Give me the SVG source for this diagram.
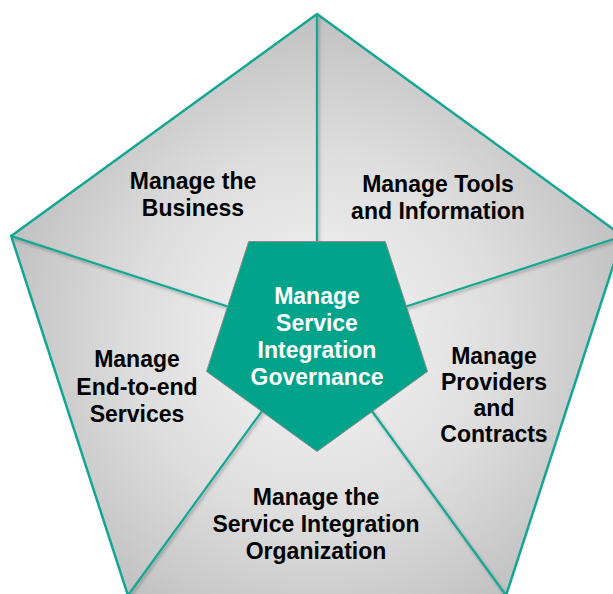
<svg xmlns="http://www.w3.org/2000/svg" width="613" height="594" viewBox="0 0 613 594">
  <defs>
    <radialGradient id="wedgeFill" gradientUnits="userSpaceOnUse" cx="317" cy="335" r="330">
      <stop offset="0" stop-color="#f6f6f6"/>
      <stop offset="0.55" stop-color="#dedede"/>
      <stop offset="1" stop-color="#bfbfbf"/>
    </radialGradient>
    <filter id="lineShadow" x="-10%" y="-10%" width="120%" height="120%">
      <feDropShadow dx="1.5" dy="2" stdDeviation="1.5" flood-color="#000" flood-opacity="0.28"/>
    </filter>
  </defs>
  <style>
    .outline { fill: url(#wedgeFill); stroke: #13a694; stroke-width: 2.5; stroke-linejoin: miter; }
    .spoke { stroke: #13a694; stroke-width: 2.2; fill: none; }
    .core { fill: #02a38b; stroke: #8a8a8a; stroke-width: 1; }
    .label { font-family: "Liberation Sans", Arial, sans-serif; font-weight: bold; font-size: 23px; fill: #000; text-anchor: middle; }
    .core-label { font-family: "Liberation Sans", Arial, sans-serif; font-weight: bold; font-size: 23px; fill: #fff; text-anchor: middle; }
  </style>

  <!-- outer pentagon -->
  <g id="outer">
    <polygon class="outline" points="317,14 622.8,236.1 506,595.5 128,595.5 11.2,236.1"/>
  </g>

  <!-- spokes from each outer corner toward the centre -->
  <g id="connectors" filter="url(#lineShadow)">
    <line class="spoke" x1="317" y1="15" x2="317" y2="335.5"/>
    <line class="spoke" x1="12" y1="236.4" x2="317" y2="335.5"/>
    <line class="spoke" x1="622" y1="236.4" x2="317" y2="335.5"/>
    <line class="spoke" x1="128.6" y1="594.5" x2="317" y2="335.5"/>
    <line class="spoke" x1="505.4" y1="594.5" x2="317" y2="335.5"/>
  </g>

  <g id="manage-business">
    <text class="label" x="193" y="189">Manage the</text>
    <text class="label" x="193" y="216">Business</text>
  </g>

  <g id="manage-tools">
    <text class="label" x="438" y="192">Manage Tools</text>
    <text class="label" x="438" y="219">and Information</text>
  </g>

  <g id="manage-end-to-end">
    <text class="label" x="137" y="367">Manage</text>
    <text class="label" x="137" y="394.5">End-to-end</text>
    <text class="label" x="137" y="422">Services</text>
  </g>

  <g id="manage-providers">
    <text class="label" x="494" y="364">Manage</text>
    <text class="label" x="494" y="390">Providers</text>
    <text class="label" x="494" y="416">and</text>
    <text class="label" x="494" y="442">Contracts</text>
  </g>

  <g id="manage-organization">
    <text class="label" x="316" y="505">Manage the</text>
    <text class="label" x="316" y="532">Service Integration</text>
    <text class="label" x="316" y="559">Organization</text>
  </g>

  <!-- central governance pentagon -->
  <g id="governance">
    <polygon class="core" points="248.7,241.5 385.3,241.5 427.5,371.4 317,451.5 206.5,371.4"/>
    <text class="core-label" x="317" y="304">Manage</text>
    <text class="core-label" x="317" y="331">Service</text>
    <text class="core-label" x="317" y="358">Integration</text>
    <text class="core-label" x="317" y="385">Governance</text>
  </g>
</svg>
